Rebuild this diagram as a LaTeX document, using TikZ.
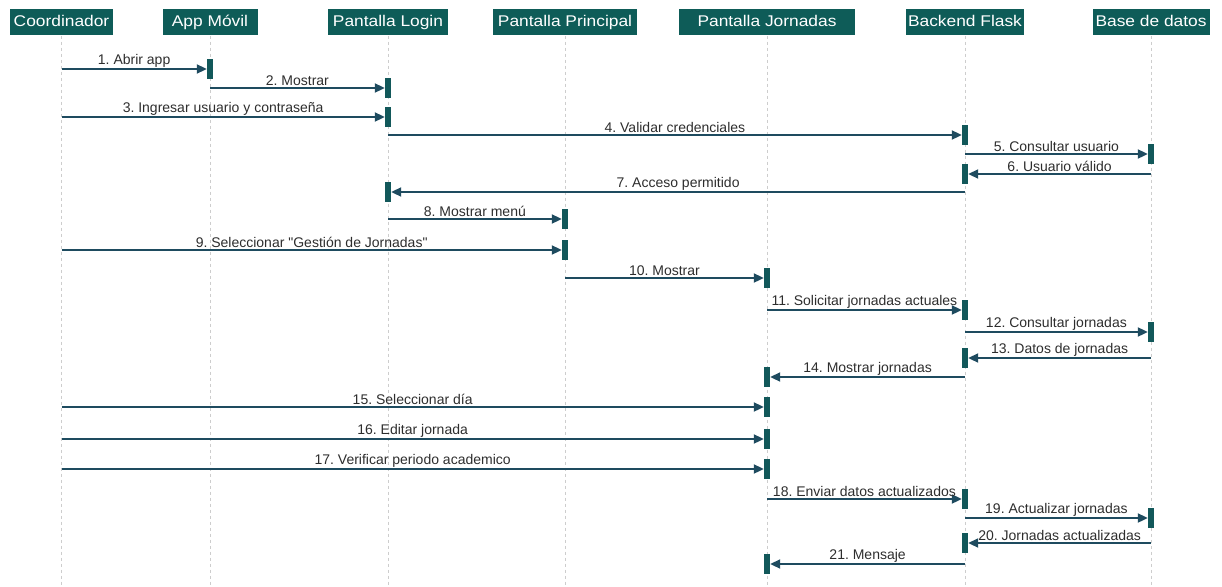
\documentclass[tikz,border=0pt]{standalone}
\usepackage{fontspec}
\setmainfont{Liberation Sans}
\newfontfamily\headfont[FakeStretch=1.12]{Liberation Sans}
\usetikzlibrary{arrows.meta}
\definecolor{headteal}{RGB}{14,92,88}
\definecolor{barteal}{RGB}{18,88,90}
\definecolor{msgblue}{RGB}{30,75,95}
\definecolor{lifegray}{RGB}{205,205,205}
\definecolor{labelgray}{RGB}{45,45,45}
\frenchspacing

\begin{document}
\begin{tikzpicture}[x=1pt, y=-1pt,
    actor/.style={rectangle, fill=headteal, text=white, minimum height=26pt, inner sep=2pt, text height=11.5pt, text depth=3.5pt, font=\headfont\fontsize{15.5}{18}\selectfont},
    lifeline/.style={draw=lifegray, dash pattern=on 3pt off 3pt, line width=0.8pt},
    actbar/.style={rectangle, fill=barteal, minimum width=6pt, minimum height=20pt, inner sep=0pt},
    msg/.style={-{Triangle[length=10pt,width=9pt]}, draw=msgblue, line width=2pt},
    lbl/.style={midway, above, inner sep=1pt, text=labelgray, font=\fontsize{14}{16}\selectfont}
]
\useasboundingbox (0,0) rectangle (1222,586);

% Participants
\node[actor, minimum width=103pt] (coord) at (61.5,22.5) {Coordinador};
\node[actor, minimum width=95pt] (app) at (210,22.5) {App Móvil};
\node[actor, minimum width=120pt] (login) at (388,22.5) {Pantalla Login};
\node[actor, minimum width=144pt] (princ) at (565,22.5) {Pantalla Principal};
\node[actor, minimum width=176pt] (jorn) at (767,22.5) {Pantalla Jornadas};
\node[actor, minimum width=118pt] (back) at (965,22.5) {Backend Flask};
\node[actor, minimum width=117pt] (base) at (1151,22.5) {Base de datos};

% Lifelines
\draw[lifeline] (coord.south) -- (coord.south |- 0,586);
\draw[lifeline] (app.south) -- (app.south |- 0,586);
\draw[lifeline] (login.south) -- (login.south |- 0,586);
\draw[lifeline] (princ.south) -- (princ.south |- 0,586);
\draw[lifeline] (jorn.south) -- (jorn.south |- 0,586);
\draw[lifeline] (back.south) -- (back.south |- 0,586);
\draw[lifeline] (base.south) -- (base.south |- 0,586);

% Activation bars
\node[actbar] (a1) at (app |- 0,69) {};
\node[actbar] (a2) at (login |- 0,88) {};
\node[actbar] (a3) at (login |- 0,117) {};
\node[actbar] (a4) at (back |- 0,135) {};
\node[actbar] (a5) at (base |- 0,154) {};
\node[actbar] (a6) at (back |- 0,174) {};
\node[actbar] (a7) at (login |- 0,192) {};
\node[actbar] (a8) at (princ |- 0,219) {};
\node[actbar] (a9) at (princ |- 0,250) {};
\node[actbar] (a10) at (jorn |- 0,278) {};
\node[actbar] (a11) at (back |- 0,310) {};
\node[actbar] (a12) at (base |- 0,332) {};
\node[actbar] (a13) at (back |- 0,358) {};
\node[actbar] (a14) at (jorn |- 0,377) {};
\node[actbar] (a15) at (jorn |- 0,407) {};
\node[actbar] (a16) at (jorn |- 0,439) {};
\node[actbar] (a17) at (jorn |- 0,469) {};
\node[actbar] (a18) at (back |- 0,499) {};
\node[actbar] (a19) at (base |- 0,518) {};
\node[actbar] (a20) at (back |- 0,543) {};
\node[actbar] (a21) at (jorn |- 0,564) {};

% Messages
\draw[msg] (coord |- a1) -- (a1.west) node[lbl] {1. Abrir app};
\draw[msg] (app |- a2) -- (a2.west) node[lbl] {2. Mostrar};
\draw[msg] (coord |- a3) -- (a3.west) node[lbl] {3. Ingresar usuario y contraseña};
\draw[msg] (login |- a4) -- (a4.west) node[lbl] {4. Validar credenciales};
\draw[msg] (back |- a5) -- (a5.west) node[lbl] {5. Consultar usuario};
\draw[msg] (base |- a6) -- (a6.east) node[lbl] {6. Usuario válido};
\draw[msg] (back |- a7) -- (a7.east) node[lbl] {7. Acceso permitido};
\draw[msg] (login |- a8) -- (a8.west) node[lbl] {8. Mostrar menú};
\draw[msg] (coord |- a9) -- (a9.west) node[lbl] {9. Seleccionar \textquotedbl Gestión de Jornadas\textquotedbl};
\draw[msg] (princ |- a10) -- (a10.west) node[lbl] {10. Mostrar};
\draw[msg] (jorn |- a11) -- (a11.west) node[lbl] {11. Solicitar jornadas actuales};
\draw[msg] (back |- a12) -- (a12.west) node[lbl] {12. Consultar jornadas};
\draw[msg] (base |- a13) -- (a13.east) node[lbl] {13. Datos de jornadas};
\draw[msg] (back |- a14) -- (a14.east) node[lbl] {14. Mostrar jornadas};
\draw[msg] (coord |- a15) -- (a15.west) node[lbl] {15. Seleccionar día};
\draw[msg] (coord |- a16) -- (a16.west) node[lbl] {16. Editar jornada};
\draw[msg] (coord |- a17) -- (a17.west) node[lbl] {17. Verificar periodo academico};
\draw[msg] (jorn |- a18) -- (a18.west) node[lbl] {18. Enviar datos actualizados};
\draw[msg] (back |- a19) -- (a19.west) node[lbl] {19. Actualizar jornadas};
\draw[msg] (base |- a20) -- (a20.east) node[lbl] {20. Jornadas actualizadas};
\draw[msg] (back |- a21) -- (a21.east) node[lbl] {21. Mensaje};
\end{tikzpicture}
\end{document}
